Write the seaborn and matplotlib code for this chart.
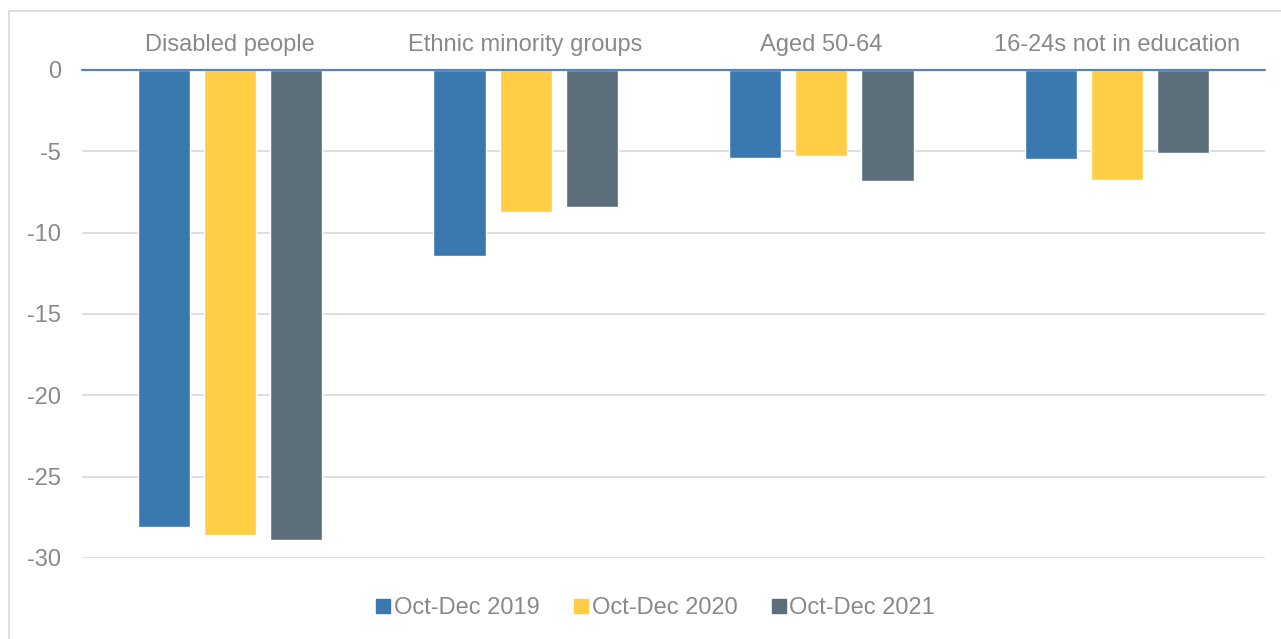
import matplotlib
matplotlib.use("Agg")
import matplotlib.pyplot as plt
from matplotlib.lines import Line2D
from matplotlib.patches import Rectangle
import seaborn as sns
import pandas as pd

# Chart data
groups = ["Disabled people", "Ethnic minority groups", "Aged 50-64", "16-24s not in education"]
periods = ["Oct-Dec 2019", "Oct-Dec 2020", "Oct-Dec 2021"]
values_2019 = [-28.1, -11.45, -5.4, -5.5]
values_2020 = [-28.6, -8.7, -5.3, -6.75]
values_2021 = [-28.9, -8.4, -6.8, -5.1]
y_ticks = [0, -5, -10, -15, -20, -25, -30]
y_tick_labels = ["0", "-5", "-10", "-15", "-20", "-25", "-30"]

colors = ["#3A79B0", "#FFCE45", "#5B6E7A"]
text_color = "#898989"
grid_color = "#D9D9D9"

rows = []
for period, vals in zip(periods, [values_2019, values_2020, values_2021]):
    for g, v in zip(groups, vals):
        rows.append({"group": g, "period": period, "value": v})
df = pd.DataFrame(rows)

sns.set_theme(style="white")
plt.rcParams["font.family"] = ["Liberation Sans", "DejaVu Sans"]
plt.rcParams["axes.unicode_minus"] = False

W, H = 1281, 639
fig = plt.figure(figsize=(W / 100, H / 100), dpi=100)
ax = fig.add_axes([82 / W, 1 - 558 / H, (1265 - 82) / W, (558 - 70) / H])

# Outer chart frame
fig.patches.append(Rectangle((9 / W, -0.1), 1.2, 1 - 11 / H + 0.1, transform=fig.transFigure,
                             fill=False, edgecolor=grid_color, linewidth=1.2, zorder=0))

sns.barplot(data=df, x="group", y="value", hue="period", order=groups, hue_order=periods,
            palette=colors, width=0.67, gap=0.21, saturation=1, legend=False,
            errorbar=None, ax=ax, zorder=3)

ax.set_ylim(-30, 0)
ax.set_yticks(y_ticks)
ax.set_yticklabels(y_tick_labels)
ax.set_xlim(-0.5, len(groups) - 0.5)
for t in y_ticks[1:]:
    ax.axhline(t, color=grid_color, linewidth=1.2, zorder=1)
ax.axhline(0, color="#4F87C2", linewidth=1.6, zorder=4, clip_on=False)

for s in ax.spines.values():
    s.set_visible(False)
ax.xaxis.tick_top()
ax.tick_params(axis="x", length=0, pad=10, labelsize=17, labelcolor=text_color)
ax.tick_params(axis="y", length=0, pad=15, labelsize=17, labelcolor=text_color)
ax.set_xlabel("")
ax.set_ylabel("")
ax.grid(False)

handles = [Line2D([], [], marker="s", linestyle="none", markersize=10, markerfacecolor=c,
                  markeredgecolor=c) for c in colors]
fig.legend(handles, periods, loc="center", bbox_to_anchor=(655 / W, 1 - 608 / H), ncol=3,
           frameon=False, fontsize=17, labelcolor=text_color, handletextpad=0.1,
           columnspacing=1.4, handlelength=0.7, borderpad=0)

fig.savefig("out.png", dpi=100)
